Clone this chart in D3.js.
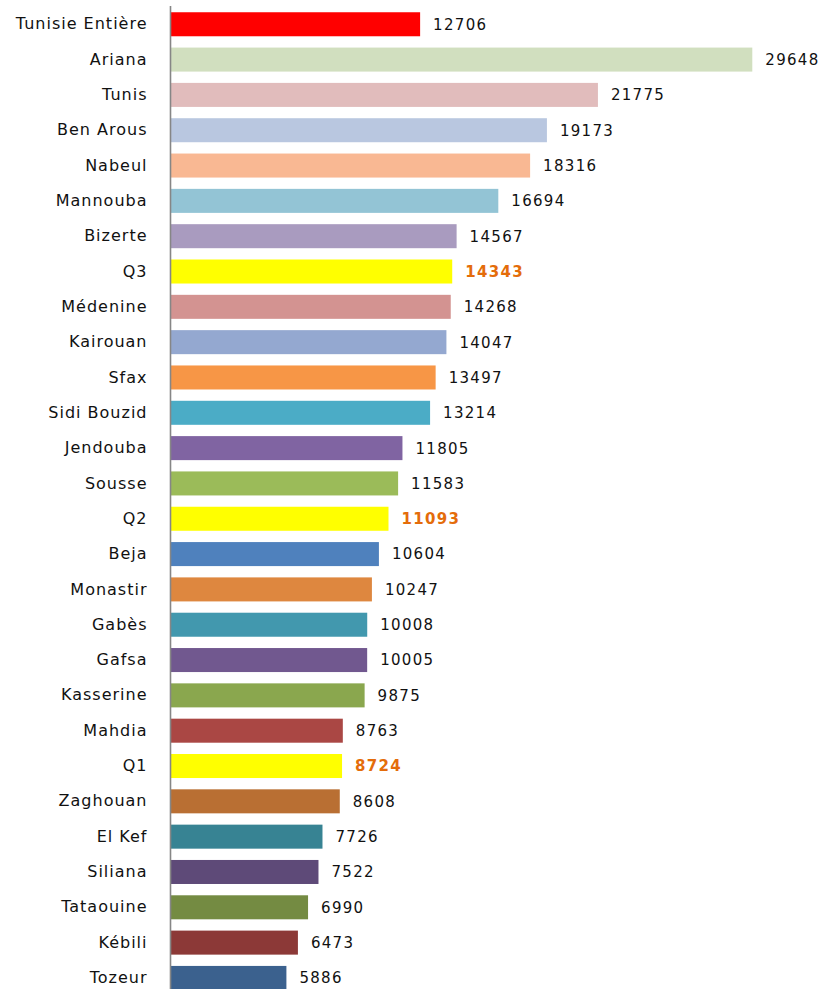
<!DOCTYPE html>
<html>
<head>
<meta charset="utf-8">
<script src="https://cdn.jsdelivr.net/npm/d3@7"></script>
<style>
  body { margin: 0; background: #fff; }
  svg text { font-family: "DejaVu Sans", Verdana, sans-serif; }
</style>
</head>
<body>
<div id="chart-area"></div>
<script>
// regions, values and bar colours
var regions = ["Tunisie Entière", "Ariana", "Tunis", "Ben Arous", "Nabeul", "Mannouba",
    "Bizerte", "Q3", "Médenine", "Kairouan", "Sfax", "Sidi Bouzid", "Jendouba", "Sousse",
    "Q2", "Beja", "Monastir", "Gabès", "Gafsa", "Kasserine", "Mahdia", "Q1", "Zaghouan",
    "El Kef", "Siliana", "Tataouine", "Kébili", "Tozeur"];

var values = [12706, 29648, 21775, 19173, 18316, 16694, 14567, 14343, 14268, 14047,
    13497, 13214, 11805, 11583, 11093, 10604, 10247, 10008, 10005, 9875, 8763, 8724,
    8608, 7726, 7522, 6990, 6473, 5886];

var colors = ["#FF0000", "#D1DFBF", "#E1BCBC", "#B9C7E0", "#F9B893", "#93C4D5",
    "#A99BBF", "#FFFF00", "#D39391", "#94A8D0", "#F79646", "#4BACC6", "#8064A2",
    "#9BBB59", "#FFFF00", "#4F81BD", "#DE873F", "#4298AE", "#71588F", "#8AA74E",
    "#AA4744", "#FFFF00", "#B96F33", "#378393", "#5E4A78", "#748B42", "#8C3937",
    "#3B618E"];

var quartiles = ["Q1", "Q2", "Q3"];

var data = regions.map(function(r, i) {
    return { name: r, value: values[i], color: colors[i] };
});

var width = 826, height = 989;

var svg = d3.select("#chart-area")
    .append("svg")
    .attr("width", width)
    .attr("height", height);

var x = d3.scaleLinear()
    .domain([0, 30000])
    .range([171, 759.2]);

var y = d3.scaleBand()
    .domain(regions)
    .range([6.6, 995.6])
    .paddingInner(0.32)
    .paddingOuter(0.16);

svg.selectAll("rect.bar")
    .data(data)
    .enter()
    .append("rect")
    .attr("class", "bar")
    .attr("x", x(0))
    .attr("y", d => y(d.name))
    .attr("width", d => x(d.value) - x(0))
    .attr("height", y.bandwidth())
    .attr("fill", d => d.color);

// vertical axis line
var yAxis = d3.axisLeft(y).tickSize(0).tickPadding(23);
var gAxis = svg.append("g")
    .attr("transform", "translate(170.5,0)")
    .call(yAxis);
gAxis.select(".domain")
    .attr("d", "M0,6V" + height)
    .attr("stroke", "#868686")
    .attr("stroke-width", 1.6);
gAxis.selectAll(".tick text")
    .attr("font-size", 16)
    .attr("fill", "#111")
    .style("font-family", "'DejaVu Sans', Verdana, sans-serif")
    .style("letter-spacing", "1px");

// value labels
svg.selectAll("text.val")
    .data(data)
    .enter()
    .append("text")
    .attr("class", "val")
    .attr("x", d => x(d.value) + 13)
    .attr("y", d => y(d.name) + y.bandwidth() / 2)
    .attr("dy", "0.36em")
    .attr("font-size", 15)
    .style("letter-spacing", "1.3px")
    .attr("font-weight", d => quartiles.includes(d.name) ? "bold" : "normal")
    .attr("fill", d => quartiles.includes(d.name) ? "#E46C0A" : "#111")
    .text(d => d.value);
</script>
</body>
</html>
